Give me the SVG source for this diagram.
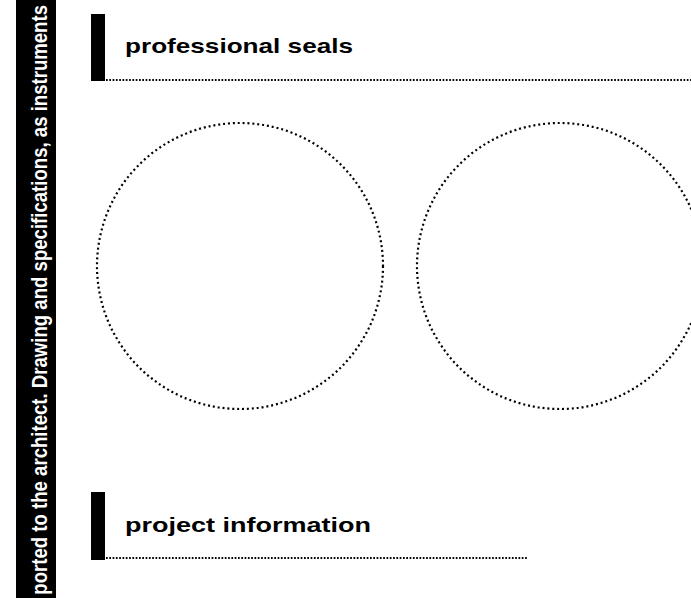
<svg xmlns="http://www.w3.org/2000/svg" width="691" height="598" viewBox="0 0 691 598">
<style>
.dot{fill:none;stroke:#000;stroke-width:1.8;stroke-dasharray:1.7 1.6}
.ring{fill:none;stroke:#000;stroke-width:2.2;stroke-dasharray:2 2.9}
.head{font-family:"Liberation Sans",Arial,sans-serif;font-weight:bold;font-size:21px;fill:#000}
.side{font-family:"Liberation Sans",Arial,sans-serif;font-weight:bold;font-size:22px;fill:#fff}
</style>
<rect width="691" height="598" fill="#fff"/>
<g id="sidebar">
<rect x="16" y="0" width="40" height="598" fill="#000"/>
<text class="side" transform="translate(47,5) rotate(-90) scale(0.845,1)" text-anchor="end">ported to the architect. Drawing and specifications, as instruments</text>
</g>
<g id="seals-heading">
<rect x="91" y="14" width="14" height="67" fill="#000"/>
<text class="head" x="125" y="53" textLength="228" lengthAdjust="spacingAndGlyphs">professional seals</text>
<line class="dot" x1="106" y1="80" x2="691" y2="80"/>
</g>
<g id="seal-1"><circle class="ring" cx="240" cy="266" r="143"/></g>
<g id="seal-2"><circle class="ring" cx="560" cy="266" r="143"/></g>
<g id="project-heading">
<rect x="91" y="492" width="14" height="68" fill="#000"/>
<text class="head" x="125" y="532" textLength="246" lengthAdjust="spacingAndGlyphs">project information</text>
<line class="dot" x1="106" y1="558" x2="528" y2="558"/>
</g>
</svg>
